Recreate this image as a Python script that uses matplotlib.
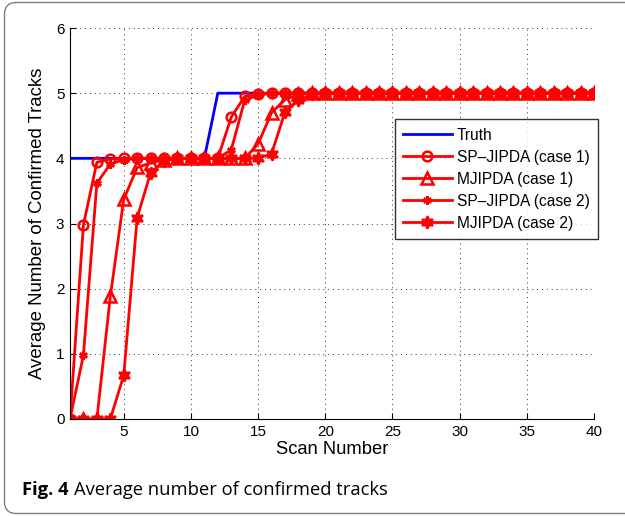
import matplotlib.pyplot as plt
from matplotlib.patches import FancyBboxPatch
from matplotlib.transforms import IdentityTransform

# scan numbers 1..40
scans = list(range(1, 41))

truth = [4, 4, 4, 4, 4, 4, 4, 4, 4, 4,
         4, 5, 5, 5, 5, 5, 5, 5, 5, 5,
         5, 5, 5, 5, 5, 5, 5, 5, 5, 5,
         5, 5, 5, 5, 5, 5, 5, 5, 5, 5]

sp_jipda_1 = [0.0, 2.98, 3.94, 3.99, 4.0, 4.0, 4.0, 4.0, 4.0, 4.0,
              4.0, 4.0, 4.63, 4.95, 4.99, 5.0, 5.0, 5.0, 5.0, 5.0,
              5.0, 5.0, 5.0, 5.0, 5.0, 5.0, 5.0, 5.0, 5.0, 5.0,
              5.0, 5.0, 5.0, 5.0, 5.0, 5.0, 5.0, 5.0, 5.0, 5.0]

mjipda_1 = [0.0, 0.0, 0.0, 1.88, 3.37, 3.86, 3.93, 3.98, 4.0, 4.0,
            4.0, 4.0, 4.0, 4.0, 4.22, 4.70, 4.90, 4.98, 5.0, 5.0,
            5.0, 5.0, 5.0, 5.0, 5.0, 5.0, 5.0, 5.0, 5.0, 5.0,
            5.0, 5.0, 5.0, 5.0, 5.0, 5.0, 5.0, 5.0, 5.0, 5.0]

sp_jipda_2 = [0.0, 0.98, 3.62, 3.91, 3.98, 4.0, 4.0, 4.0, 4.0, 4.0,
              4.0, 4.0, 4.13, 4.89, 4.97, 5.0, 5.0, 5.0, 5.0, 5.0,
              5.0, 5.0, 5.0, 5.0, 5.0, 5.0, 5.0, 5.0, 5.0, 5.0,
              5.0, 5.0, 5.0, 5.0, 5.0, 5.0, 5.0, 5.0, 5.0, 5.0]

mjipda_2 = [0.0, 0.0, 0.0, 0.0, 0.67, 3.09, 3.78, 3.96, 4.0, 4.0,
            4.0, 4.0, 4.0, 4.0, 4.0, 4.07, 4.71, 4.89, 4.98, 5.0,
            5.0, 5.0, 5.0, 5.0, 5.0, 5.0, 5.0, 5.0, 5.0, 5.0,
            5.0, 5.0, 5.0, 5.0, 5.0, 5.0, 5.0, 5.0, 5.0, 5.0]

plt.rcParams['font.family'] = ['Liberation Sans', 'DejaVu Sans']

fig = plt.figure(figsize=(6.25, 5.16), dpi=100)

# rounded frame, open to the right (pixel coords)
frame = FancyBboxPatch((4.5, 2.5), 900, 511,
                       boxstyle='round,pad=0,rounding_size=12',
                       transform=IdentityTransform(), fill=False,
                       edgecolor='#808080', linewidth=1.0, clip_on=False)
fig.patches.append(frame)

ax = fig.add_axes([70 / 625, 1 - 419 / 516, 524 / 625, 391 / 516])

ax.plot(scans, truth, color='#0000ff', lw=2, label='Truth')
ax.plot(scans, sp_jipda_1, color='red', lw=2, marker='o', ms=7,
        mfc='none', mew=1.8, label='SP\u2013JIPDA (case 1)')
ax.plot(scans, mjipda_1, color='red', lw=2, marker='^', ms=8,
        mfc='none', mew=1.8, label='MJIPDA (case 1)')
ax.plot(scans, sp_jipda_2, color='red', lw=2, marker=(6, 2, 0), ms=6,
        mew=1.8, label='SP\u2013JIPDA (case 2)')
ax.plot(scans, mjipda_2, color='red', lw=2, marker=(6, 1, 0), ms=9,
        mew=1.5, label='MJIPDA (case 2)')

ax.set_xlim(1, 40)
ax.set_ylim(0, 6)
ax.set_xticks([5, 10, 15, 20, 25, 30, 35, 40])
ax.set_yticks([0, 1, 2, 3, 4, 5, 6])
ax.grid(True, which='major', linestyle=(0, (1, 4)), color='#333333', lw=0.7)
ax.set_axisbelow(True)
ax.spines['top'].set_visible(False)
ax.spines['right'].set_visible(False)
ax.tick_params(direction='in', length=4, labelsize=11, pad=4)
ax.set_xlabel('Scan Number', fontsize=13.2, labelpad=2)
ax.set_ylabel('Average Number of Confirmed Tracks', fontsize=13.4, labelpad=7)

leg = ax.legend(loc='upper right', bbox_to_anchor=(1.0076, 0.767), fontsize=11.2,
                frameon=True, fancybox=False, handlelength=3.1,
                borderpad=0.55, labelspacing=0.45, handletextpad=0.32,
                borderaxespad=0)
leg.get_frame().set_edgecolor('black')
leg.get_frame().set_linewidth(1.0)

cap_font = ['Open Sans', 'DejaVu Sans']
t1 = fig.text(22 / 625, 1 - 490 / 516, 'Fig. 4', fontsize=13.2, fontweight='bold',
              family=cap_font, va='center')
fig.canvas.draw()
bb = t1.get_window_extent()
fig.text((bb.x1 + 5) / 625, 1 - 490 / 516, 'Average number of confirmed tracks',
         fontsize=13.2, family=cap_font, va='center')

fig.savefig('out.png', dpi=100)
